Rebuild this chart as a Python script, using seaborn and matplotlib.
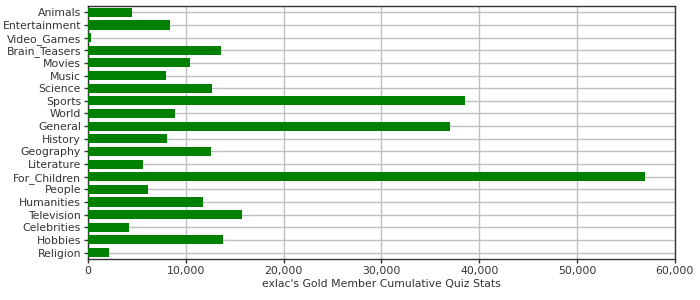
import matplotlib
matplotlib.use("Agg")
import matplotlib.pyplot as plt
import seaborn as sns
import pandas as pd
from matplotlib.ticker import FuncFormatter

categories = ["Animals", "Entertainment", "Video_Games", "Brain_Teasers", "Movies",
              "Music", "Science", "Sports", "World", "General", "History",
              "Geography", "Literature", "For_Children", "People", "Humanities",
              "Television", "Celebrities", "Hobbies", "Religion"]
values = [4500, 8400, 300, 13600, 10450, 7950, 12700, 38550, 8900, 37000, 8100,
          12600, 5650, 57000, 6100, 11750, 15750, 4150, 13850, 2100]
xlabel = "exlac's Gold Member Cumulative Quiz Stats"

df = pd.DataFrame({"category": categories, "value": values})

sns.set_style("white")
plt.rcParams['font.family'] = ['DejaVu Sans']

fig = plt.figure(figsize=(7, 3), dpi=100)
ax = fig.add_axes([0.1257, 0.137, 0.964 - 0.1257, 0.98 - 0.137])

sns.barplot(data=df, x="value", y="category", orient="h", color="#008000",
            saturation=1, width=0.72, linewidth=0, ax=ax, zorder=3)

ax.set_xlim(0, 60000)
ax.set_ylim(19.5, -0.5)
ax.set_xticks(range(0, 60001, 10000))
ax.xaxis.set_major_formatter(FuncFormatter(lambda v, p: f"{int(v):,}"))
ax.grid(True, color="#c0c0c0", linewidth=1, zorder=0)
ax.set_axisbelow(True)
for s in ax.spines.values():
    s.set_color("#333333")
    s.set_linewidth(1)
    s.set_visible(True)
ax.tick_params(axis="both", labelsize=7.8, colors="#333333", length=3, width=1,
               direction="out", left=True, bottom=True, pad=2)
ax.set_ylabel("")
ax.set_xlabel(xlabel, fontsize=7.8, color="#333333", labelpad=2)

fig.savefig("out.png", dpi=100)
